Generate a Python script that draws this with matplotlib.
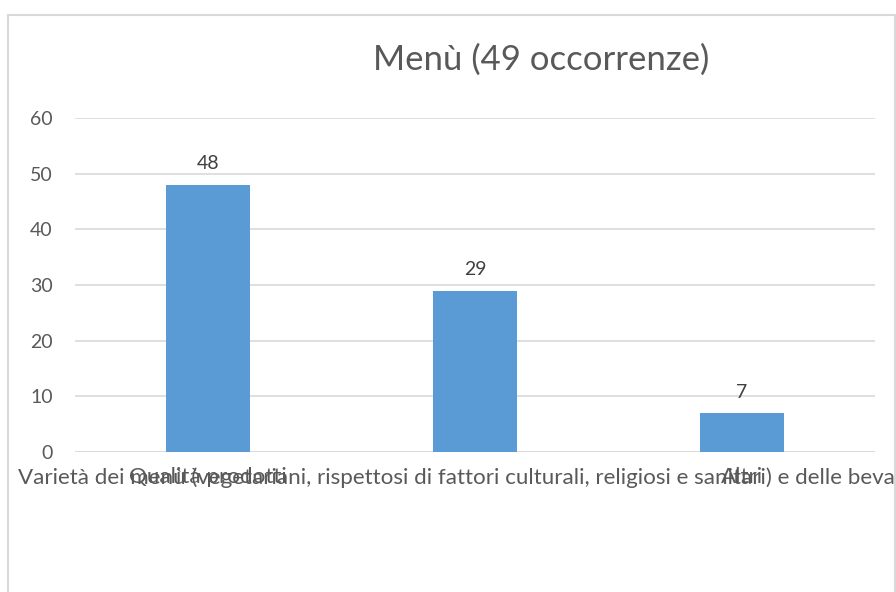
import matplotlib
matplotlib.use("Agg")
import matplotlib.pyplot as plt
from matplotlib.patches import Rectangle

categories = [
    "Qualità prodotti",
    "Varietà dei menù (vegetariani, rispettosi di fattori culturali, religiosi e sanitari) e delle bevande",
    "Altri",
]
values = [48, 29, 7]
yticks = [0, 10, 20, 30, 40, 50, 60]
title = "Menù (49 occorrenze)"

W, H = 896, 592
plt.rcParams['font.family'] = ['Lato', 'DejaVu Sans']
fig = plt.figure(figsize=(W / 100, H / 100), dpi=100)

# chart border
fig.patches.append(Rectangle((8 / W, -0.1), (895 - 8) / W, 1.1 - 15 / H,
                             transform=fig.transFigure, fill=False,
                             edgecolor='#D9D9D9', linewidth=1.5))

ax = fig.add_axes([75 / W, 1 - 452 / H, 800 / W, 334 / H])
x = list(range(len(categories)))
bars = ax.bar(x, values, width=0.315, color='#5B9BD5', zorder=3)
ax.set_xlim(-0.5, 2.5)
ax.set_ylim(0, 60)
ax.set_yticks(yticks)
ax.set_yticklabels([str(t) for t in yticks])
ax.yaxis.grid(True, color='#D9D9D9', linewidth=1.2, zorder=0)
for s in ax.spines.values():
    s.set_visible(False)
ax.tick_params(axis='both', length=0, labelsize=14, colors='#595959')
ax.tick_params(axis='y', pad=16)
ax.tick_params(axis='x', pad=11, labelsize=16.1)
ax.set_xticks(x)
ax.set_xticklabels(categories)
ax.axhline(0, color='#D9D9D9', linewidth=1.2, zorder=1)

for b, v in zip(bars, values):
    ax.annotate(str(v), (b.get_x() + b.get_width() / 2, v),
                xytext=(0, 9), textcoords='offset points',
                ha='center', va='bottom', fontsize=14, color='#404040')

fig.text(541 / W, 1 - 60 / H, title, ha='center', va='center',
         fontsize=25, color='#595959')

fig.savefig('out.png', dpi=100)
